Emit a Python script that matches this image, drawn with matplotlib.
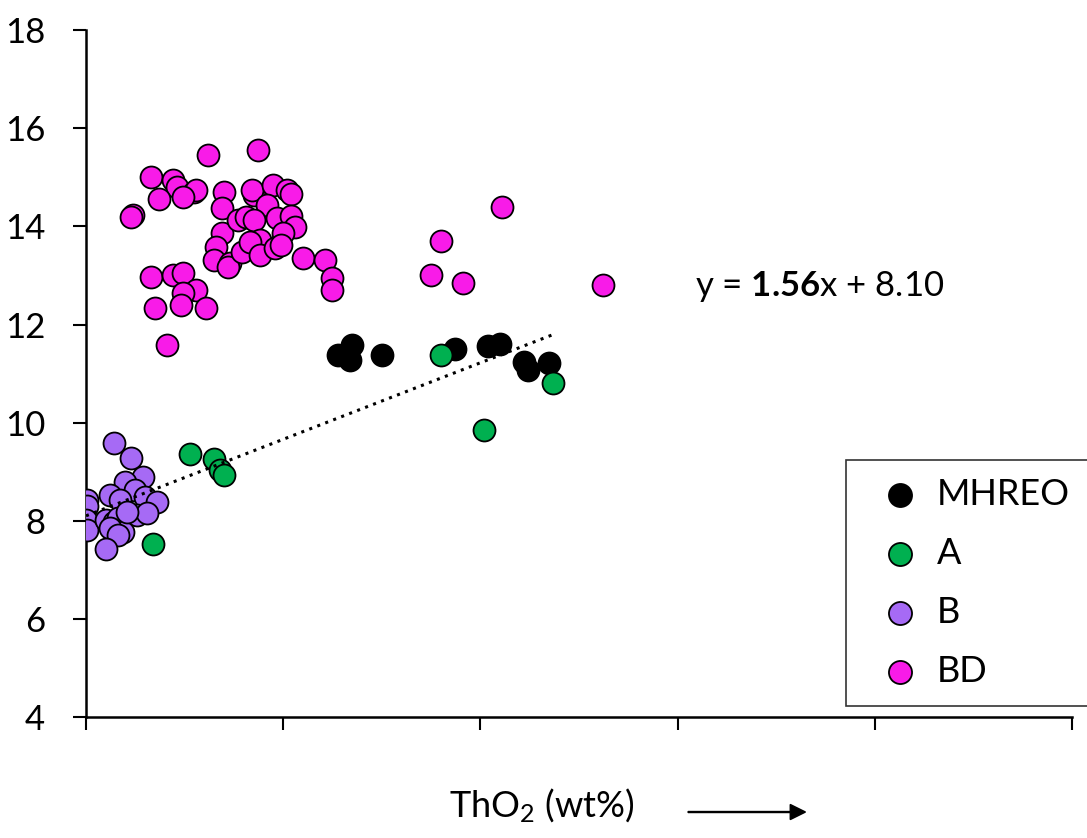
import matplotlib
matplotlib.use("Agg")
import matplotlib.pyplot as plt

plt.rcParams['font.family'] = ['Lato', 'DejaVu Sans']
plt.rcParams['mathtext.fontset'] = 'custom'
plt.rcParams['mathtext.rm'] = 'Lato'
plt.rcParams['mathtext.it'] = 'Lato:italic'
plt.rcParams['mathtext.bf'] = 'Lato:bold'

# MHREO
mhreo_x = [1.28, 1.35, 1.34, 1.50, 1.87, 2.04, 2.10, 2.22, 2.24, 2.35]
mhreo_y = [11.38, 11.58, 11.28, 11.38, 11.50, 11.56, 11.60, 11.24, 11.08, 11.22]

# A
a_x = [1.80, 2.02, 2.37, 0.53, 0.65, 0.68, 0.70, 0.34]
a_y = [11.38, 9.85, 10.81, 9.36, 9.26, 9.04, 8.94, 7.53]

# B
b_x = [0.14, 0.23, 0.29, 0.20, 0.25, 0.12, 0.30, 0.36, 0.17, 0.005, 0.005, 0.0,
       0.005, 0.10, 0.14, 0.16, 0.26, 0.31, 0.19, 0.12, 0.16, 0.21, 0.10]
b_y = [9.59, 9.28, 8.90, 8.79, 8.63, 8.53, 8.49, 8.39, 8.43, 8.43, 8.31, 8.02,
       7.82, 8.02, 7.98, 8.06, 8.12, 8.16, 7.78, 7.86, 7.71, 8.18, 7.42]

# BD
bd_x = [0.62, 0.87, 0.33, 0.44, 0.46, 0.55, 0.56, 0.37, 0.49, 0.24, 0.23,
        0.33, 0.44, 0.49, 0.56, 0.49, 0.48, 0.35, 0.61, 0.41,
        0.70, 0.69, 0.69, 0.66, 0.65, 0.73, 0.72, 0.79, 0.77, 0.81, 0.85, 0.84,
        0.95, 1.02, 1.04, 0.92, 0.85, 0.97, 1.04, 1.06, 1.00, 0.88, 0.83, 0.88,
        0.96, 0.99, 1.10, 1.21, 1.25, 1.25,
        1.75, 1.80, 1.91, 2.11, 2.62]
bd_y = [15.45, 15.56, 15.00, 14.95, 14.80, 14.70, 14.74, 14.56, 14.60, 14.23, 14.19,
        12.97, 13.01, 13.05, 12.70, 12.64, 12.40, 12.34, 12.34, 11.58,
        14.70, 14.37, 13.87, 13.58, 13.32, 13.25, 13.17, 13.48, 14.13, 14.19, 14.64, 14.74,
        14.84, 14.74, 14.66, 14.44, 14.13, 14.17, 14.21, 13.99, 13.87, 13.72, 13.68, 13.42,
        13.56, 13.62, 13.36, 13.32, 12.95, 12.70,
        13.01, 13.70, 12.85, 14.40, 12.81]

# trend line
slope = 1.56
intercept = 8.10
fit_x = [0.0, 2.37]

fig = plt.figure(figsize=(10.87, 8.38), dpi=100)
ax = fig.add_axes([0.0791, 0.1444, 0.907, 0.8196])

ms = 250
ax.scatter(mhreo_x, mhreo_y, s=ms, c='black', edgecolors='black', linewidths=1.3, label='MHREO', zorder=3)
ax.scatter(a_x, a_y, s=ms, c='#00B050', edgecolors='black', linewidths=1.3, label='A', zorder=3)
ax.scatter(b_x, b_y, s=ms, c='#A66AF5', edgecolors='black', linewidths=1.3, label='B', zorder=3)
ax.scatter(bd_x, bd_y, s=ms, c='#F81BE8', edgecolors='black', linewidths=1.3, label='BD', zorder=3)

fy = [slope * v + intercept for v in fit_x]
ax.plot(fit_x, fy, color='black', lw=2.2, linestyle=(0, (1, 1.8)), zorder=4)

ax.set_xlim(0, 5)
ax.set_ylim(4, 18)
ax.set_xticks([0, 1, 2, 3, 4, 5])
ax.set_xticklabels([])
ax.set_yticks([4, 6, 8, 10, 12, 14, 16, 18])
ax.tick_params(axis='both', direction='out', length=9.5, width=1.5, labelsize=25)
ax.tick_params(axis='y', pad=20)
for s in ['top', 'right']:
    ax.spines[s].set_visible(False)
for s in ['left', 'bottom']:
    ax.spines[s].set_linewidth(1.8)

ax.text(3.09, 12.78, r'y = $\mathbf{1.56}$x + 8.10', fontsize=25, va='center', ha='left')

leg = ax.legend(loc='lower right', bbox_to_anchor=(1.016, 0.016), fontsize=26, frameon=True,
                fancybox=False, edgecolor='black', markerscale=1.05, handletextpad=0.0,
                labelspacing=0.72, borderpad=0.5, handlelength=2.0, borderaxespad=0)
leg.get_frame().set_linewidth(1.2)

fig.text(0.498, 0.039, r'ThO$_2$ (wt%)', fontsize=26, ha='center', va='center')
fig.patches.append(matplotlib.patches.FancyArrow(0.633, 0.031, 0.108, 0, width=0.0012,
                   head_width=0.018, head_length=0.014, color='black',
                   transform=fig.transFigure, length_includes_head=True))

fig.savefig('out.png', dpi=100)
